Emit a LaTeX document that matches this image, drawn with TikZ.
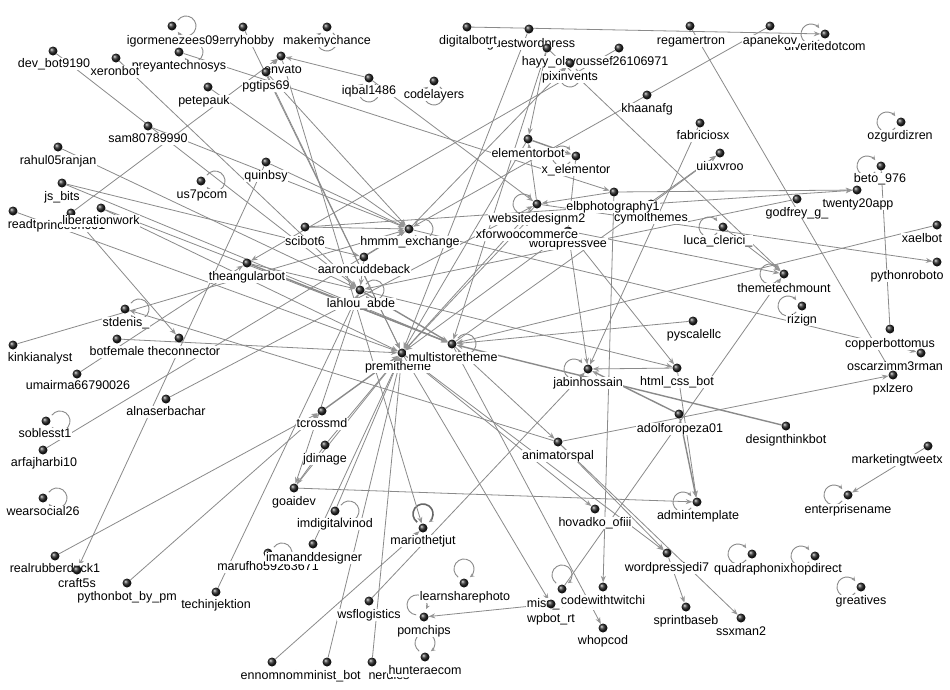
\documentclass[tikz,border=0pt]{standalone}
\usepackage{fontspec}
\setmainfont{Liberation Sans}
\usetikzlibrary{arrows.meta,calc}
\pgfdeclarelayer{bgl}
\pgfdeclarelayer{edges}
\pgfsetlayers{bgl,edges,main}
\definecolor{edgec}{RGB}{138,138,138}
\definecolor{tipc}{RGB}{150,150,150}
\tikzset{
 ball/.style={circle,inner sep=0pt,minimum size=9pt,shading=ball,ball color=black!85},
 lbl/.style={fill=white,inner sep=0.6pt,font=\fontsize{12.5}{14}\selectfont,text height=9pt,text depth=2.6pt},
 ed/.style={draw=edgec,line width=0.8pt,-{Stealth[length=6.5pt,width=5pt,fill=tipc,color=tipc]}},
 edk/.style={ed,line width=1.4pt},
 loopst/.style={draw=edgec,line width=0.9pt,-{Stealth[length=4.5pt,width=4pt,color=tipc]}},
}
\newcommand{\nd}[6]{\node[ball] (#1) at (#2,#3) {}; \node[lbl] at (#4,#5) {#6};}
\newcommand{\ndw}[6]{\node[ball] (#1) at (#2,#3) {}; \node[lbl,anchor=west] at (#4,#5) {#6};}
\newcommand{\lp}[3][]{\begin{pgfonlayer}{edges}\draw[loopst,#1] ($(#2)+(#3:14)+(#3+215:10)$) arc[start angle=#3+215, end angle=#3+505, radius=10];\end{pgfonlayer}}
\begin{document}
\begin{tikzpicture}[x=1pt,y=-1pt]
\begin{pgfonlayer}{bgl}
\fill[white] (0,0) rectangle (950,689);
\end{pgfonlayer}
\useasboundingbox (0,0) rectangle (950,689);
\nd{jerry}{243}{27}{245}{41}{jerryhobby}
\nd{igor}{172}{26}{173}{41}{igormenezees09}
\nd{devbot}{53}{51}{54}{64}{dev\_bot9190}
\nd{preyan}{179}{52}{179}{66}{preyantechnosys}
\nd{xeronbot}{116}{58}{115}{72}{xeronbot}
\nd{envato}{281}{56}{283}{70}{envato}
\nd{makemy}{327}{27}{327}{41}{makemychance}
\nd{pgtips}{266}{72}{266}{86}{pgtips69}
\nd{iqbal}{369}{78}{369}{91}{iqbal1486}
\nd{codelayers}{434}{81}{434}{95}{codelayers}
\nd{guestwp}{529}{29}{531}{44}{guestwordpress}
\nd{digitalbotrt}{467}{27}{468}{41}{digitalbotrt}
\nd{regamertron}{690}{26}{691}{41}{regamertron}
\nd{diverite}{825}{34}{825}{47}{diveritedotcom}
\nd{apanekov}{770}{26}{770}{41}{apanekov}
\nd{hayy}{547}{48}{547}{62}{hayy\_ola}
\nd{youssef}{619}{48}{619}{62}{youssef26106971}
\nd{pixinvents}{570}{63}{570}{77}{pixinvents}
\nd{khaanafg}{647}{95}{647}{109}{khaanafg}
\nd{petepauk}{208}{87}{204}{101}{petepauk}
\nd{sam}{148}{126}{148}{139}{sam80789990}
\nd{rahul}{58}{147}{58}{161}{rahul05ranjan}
\nd{quinbsy}{266}{162}{266}{176}{quinbsy}
\nd{us7pcom}{201}{181}{202}{195}{us7pcom}
\nd{jsbits}{62}{183}{62}{197}{js\_bits}
\ndw{readt}{13}{211}{7}{225}{readtpress}
\nd{princeon}{71}{213}{71}{226}{princeon001}
\nd{liberation}{101}{208}{101}{221}{liberationwork}
\nd{elementorbot}{528}{139}{528}{154}{elementorbot}
\nd{xelementor}{576}{156}{576}{170}{x\_elementor}
\nd{fabriciosx}{700}{123}{703}{136}{fabriciosx}
\nd{uiuxvroo}{720}{153}{720}{167}{uiuxvroo}
\nd{ozgur}{901}{122}{900}{136}{ozgurdizren}
\nd{beto}{881}{166}{880}{179}{beto\_976}
\nd{twenty20app}{857}{190}{858}{204}{twenty20app}
\nd{cymol}{651}{204}{651}{218}{cymolthemes}
\nd{elbphoto}{614}{192}{613}{207}{elbphotography1}
\nd{godfrey}{797}{199}{797}{213}{godfrey\_g\_}
\nd{wordpressvee}{568}{231}{568}{244}{wordpressvee}
\nd{xforwoo}{527}{221}{527}{235}{xforwoocommerce}
\nd{websitedesign}{537}{204}{537}{219}{websitedesignm2}
\nd{scibot6}{305}{227}{305}{242}{scibot6}
\nd{hmmm}{409}{229}{410}{242}{hmmm\_exchange}
\nd{luca}{723}{227}{718}{241}{luca\_clerici\_}
\nd{xaelbot}{937}{225}{922}{239}{xaelbot}
\nd{pythonroboto}{937}{262}{907}{276}{pythonroboto}
\nd{theangularbot}{247}{263}{247}{277}{theangularbot}
\nd{aaron}{364}{257}{364}{270}{aaroncuddeback}
\nd{themetech}{784}{274}{784}{289}{themetechmount}
\nd{lahlou}{360}{290}{361}{304}{lahlou\_abde}
\nd{rizign}{802}{306}{802}{320}{rizign}
\nd{stdenis}{125}{309}{126}{323}{stdenis\_}
\nd{pyscalellc}{693}{321}{694}{335}{pyscalellc}
\nd{copperbottom}{890}{329}{890}{344}{copperbottomus}
\ndw{kinki}{13}{345}{7}{358}{kinkianalyst}
\nd{botfemale}{117}{339}{117}{352}{botfemale}
\nd{theconnector}{179}{338}{184}{352}{theconnector}
\nd{premitheme}{402}{353}{398}{367}{premitheme}
\nd{multistore}{452}{344}{453}{358}{multistoretheme}
\nd{oscar}{921}{353}{895}{367}{oscarzimm3rman}
\nd{jabin}{588}{369}{588}{383}{jabinhossain}
\nd{htmlcss}{677}{368}{677}{382}{html\_css\_bot}
\nd{pxlzero}{893}{375}{893}{389}{pxlzero}
\nd{umairma}{77}{374}{78}{386}{umairma66790026}
\nd{alnaser}{166}{399}{166}{412}{alnaserbachar}
\nd{adolfo}{679}{414}{680}{429}{adolforopeza01}
\nd{designthink}{786}{426}{786}{440}{designthinkbot}
\nd{tcrossmd}{322}{411}{322}{424}{tcrossmd}
\nd{soblesst}{46}{421}{45}{434}{soblesst1}
\nd{arfaj}{43}{450}{44}{463}{arfajharbi10}
\nd{jdimage}{325}{445}{325}{459}{jdimage}
\nd{animatorspal}{558}{442}{558}{456}{animatorspal}
\nd{marketingtweetx}{928}{446}{897}{460}{marketingtweetx}
\nd{goaidev}{294}{488}{294}{502}{goaidev}
\nd{enterprisename}{848}{495}{848}{510}{enterprisename}
\nd{admintemplate}{697}{502}{698}{516}{admintemplate}
\nd{imdigital}{335}{511}{335}{524}{imdigitalvinod}
\nd{hovadko}{595}{509}{595}{523}{hovadko\_ofiii}
\nd{wearsocial}{43}{498}{43}{512}{wearsocial26}
\nd{mariothetjut}{423}{528}{423}{541}{mariothetjut}
\nd{marufho}{268}{553}{268}{567}{marufho59263671}
\nd{imanand}{313}{544}{314}{558}{imananddesigner}
\nd{wordpressjedi7}{667}{553}{667}{568}{wordpressjedi7}
\nd{shopdirect}{815}{556}{813}{569}{shopdirect}
\nd{quadraphonix}{752}{554}{752}{569}{quadraphonix}
\nd{realrubber}{55}{556}{55}{569}{realrubberduck1}
\nd{craft5s}{77}{570}{77}{584}{craft5s}
\nd{greatives}{861}{587}{861}{601}{greatives}
\nd{pythonbot}{127}{583}{127}{597}{pythonbot\_by\_pm}
\nd{techinjektion}{216}{592}{216}{605}{techinjektion}
\nd{learnshare}{464}{583}{465}{597}{learnsharephoto}
\nd{miss}{562}{589}{562}{604}{miss\_dmcaa}
\nd{wpbotrt}{551}{604}{551}{619}{wpbot\_rt}
\nd{codewithtwitchi}{603}{587}{603}{601}{codewithtwitchi}
\nd{whopcod}{603}{628}{603}{641}{whopcod}
\nd{sprintbaseb}{686}{607}{686}{621}{sprintbaseb}
\nd{ssxman2}{741}{618}{741}{632}{ssxman2}
\nd{wsflogistics}{369}{601}{369}{615}{wsflogistics}
\nd{pomchips}{424}{617}{424}{631}{pomchips}
\nd{feminist}{327}{662}{327}{676}{feminist\_bot}
\nd{ennomnom}{272}{662}{272}{676}{ennomnom}
\nd{nerdies}{372}{662}{389}{676}{nerdies}
\nd{hunteraecom}{425}{657}{425}{671}{hunteraecom}
% self loops
\lp{igor}{0}
\lp{preyan}{0}
\lp{makemy}{90}
\lp{iqbal}{90}
\lp{codelayers}{90}
\lp{pixinvents}{90}
\lp{diverite}{180}
\lp{ozgur}{180}
\lp{beto}{180}
\lp{xelementor}{180}
\lp{websitedesign}{180}
\lp{luca}{180}
\lp{themetech}{180}
\lp{rizign}{180}
\lp{stdenis}{0}
\lp{hmmm}{0}
\lp{lahlou}{0}
\lp{multistore}{0}
\lp{jabin}{180}
\lp{us7pcom}{0}
\lp{soblesst}{0}
\lp{wearsocial}{0}
\lp{imdigital}{0}
\lp{marufho}{0}
\lp[line width=1.6pt,draw=black!60]{mariothetjut}{270}
\lp{learnshare}{270}
\lp{pomchips}{240}
\lp{hunteraecom}{270}
\lp{miss}{270}
\lp{admintemplate}{180}
\lp{quadraphonix}{180}
\lp{shopdirect}{180}
\lp{greatives}{180}
\lp{enterprisename}{180}
\begin{pgfonlayer}{edges}
\draw[ed] (digitalbotrt) -- (diverite);
\draw[ed] (regamertron) -- (pxlzero);
\draw[ed] (apanekov) -- (hmmm);
\draw[ed] (guestwp) -- (premitheme);
\draw[ed] (hayy) -- (multistore);
\draw[ed] (hayy) -- (elementorbot);
\draw[ed] (hayy) -- (themetech);
\draw[ed] (hmmm) -- (pixinvents);
\draw[ed] (youssef) -- (theangularbot);
\draw[edk] (elementorbot) -- (xelementor);
\draw[ed] (websitedesign) -- (elementorbot);
\draw[ed] (xelementor) -- (wordpressvee);
\draw[ed] (elbphoto) -- (websitedesign);
\draw[ed] (elbphoto) -- (twenty20app);
\draw[ed] (scibot6) -- (hmmm);
\draw[ed] (scibot6) -- (twenty20app);
\draw[ed] (pgtips) -- (envato);
\draw[ed] (iqbal) -- (envato);
\draw[ed] (princeon) -- (envato);
\draw[ed] (jerry) -- (premitheme);
\draw[ed] (envato) -- (mariothetjut);
\draw[ed] (pgtips) -- (premitheme);
\draw[ed] (pgtips) -- (hmmm);
\draw[ed] (preyan) -- (elbphoto);
\draw[ed] (iqbal) -- (websitedesign);
\draw[ed] (devbot) -- (lahlou);
\draw[ed] (sam) -- (hmmm);
\draw[ed] (xeronbot) -- (lahlou);
\draw[ed] (petepauk) -- (hmmm);
\draw[ed] (rahul) -- (lahlou);
\draw[ed] (jsbits) -- (aaron);
\draw[ed] (jsbits) -- (multistore);
\draw[ed] (liberation) -- (multistore);
\draw[ed] (liberation) -- (premitheme);
\draw[ed] (readt) -- (premitheme);
\draw[ed] (princeon) -- (theconnector);
\draw[ed] (kinki) -- (hmmm);
\draw[ed] (animatorspal) -- (stdenis);
\draw[ed] (botfemale) -- (premitheme);
\draw[ed] (umairma) -- (theangularbot);
\draw[ed] (arfaj) -- (hmmm);
\draw[ed] (alnaser) -- (websitedesign);
\draw[ed] (realrubber) -- (tcrossmd);
\draw[ed] (quinbsy) -- (craft5s);
\draw[ed] (quinbsy) -- (hmmm);
\draw[edk] (theangularbot) -- (multistore);
\draw[ed] (theangularbot) -- (lahlou);
\draw[ed] (aaron) -- (hmmm);
\draw[ed] (aaron) -- (lahlou);
\draw[edk] (lahlou) -- (multistore);
\draw[edk] (tcrossmd) -- (premitheme);
\draw[ed] (jdimage) -- (premitheme);
\draw[ed] (goaidev) -- (premitheme);
\draw[ed] (goaidev) -- (admintemplate);
\draw[ed] (jdimage) -- (goaidev);
\draw[ed] (lahlou) -- (goaidev);
\draw[ed] (imdigital) -- (premitheme);
\draw[ed] (imanand) -- (premitheme);
\draw[ed] (techinjektion) -- (lahlou);
\draw[ed] (pythonbot) -- (tcrossmd);
\draw[ed] (ennomnom) -- (mariothetjut);
\draw[ed] (feminist) -- (premitheme);
\draw[ed] (nerdies) -- (premitheme);
\draw[ed] (wsflogistics) -- (jabin);
\draw[ed] (wpbotrt) -- (pomchips);
\draw[ed] (premitheme) -- (wpbotrt);
\draw[ed] (multistore) -- (whopcod);
\draw[ed] (premitheme) -- (wordpressjedi7);
\draw[ed] (animatorspal) -- (ssxman2);
\draw[ed] (multistore) -- (animatorspal);
\draw[ed] (wordpressjedi7) -- (sprintbaseb);
\draw[ed] (premitheme) -- (hovadko);
\draw[ed] (elbphoto) -- (codewithtwitchi);
\draw[ed] (miss) -- (themetech);
\draw[ed] (animatorspal) -- (wordpressjedi7);
\draw[ed] (wordpressvee) -- (jabin);
\draw[ed] (wordpressvee) -- (htmlcss);
\draw[ed] (htmlcss) -- (jabin);
\draw[edk] (adolfo) -- (jabin);
\draw[ed] (htmlcss) -- (admintemplate);
\draw[edk] (adolfo) -- (admintemplate);
\draw[ed] (animatorspal) -- (pxlzero);
\draw[edk] (designthink) -- (multistore);
\draw[ed] (pyscalellc) -- (multistore);
\draw[ed] (xaelbot) -- (multistore);
\draw[ed] (websitedesign) -- (pythonroboto);
\draw[ed] (copperbottom) -- (beto);
\draw[ed] (hmmm) -- (oscar);
\draw[ed] (godfrey) -- (lahlou);
\draw[ed] (fabriciosx) -- (jabin);
\draw[ed] (multistore) -- (uiuxvroo);
\draw[ed] (cymol) -- (uiuxvroo);
\draw[ed] (luca) -- (themetech);
\draw[ed] (wordpressvee) -- (premitheme);
\draw[ed] (xforwoo) -- (premitheme);
\draw[ed] (websitedesign) -- (premitheme);
\draw[ed] (elementorbot) -- (premitheme);
\draw[ed] (marketingtweetx) -- (enterprisename);
\draw[ed] (lahlou) -- (htmlcss);
\draw[ed] (wordpressvee) -- (themetech);
\end{pgfonlayer}
\end{tikzpicture}
\end{document}
